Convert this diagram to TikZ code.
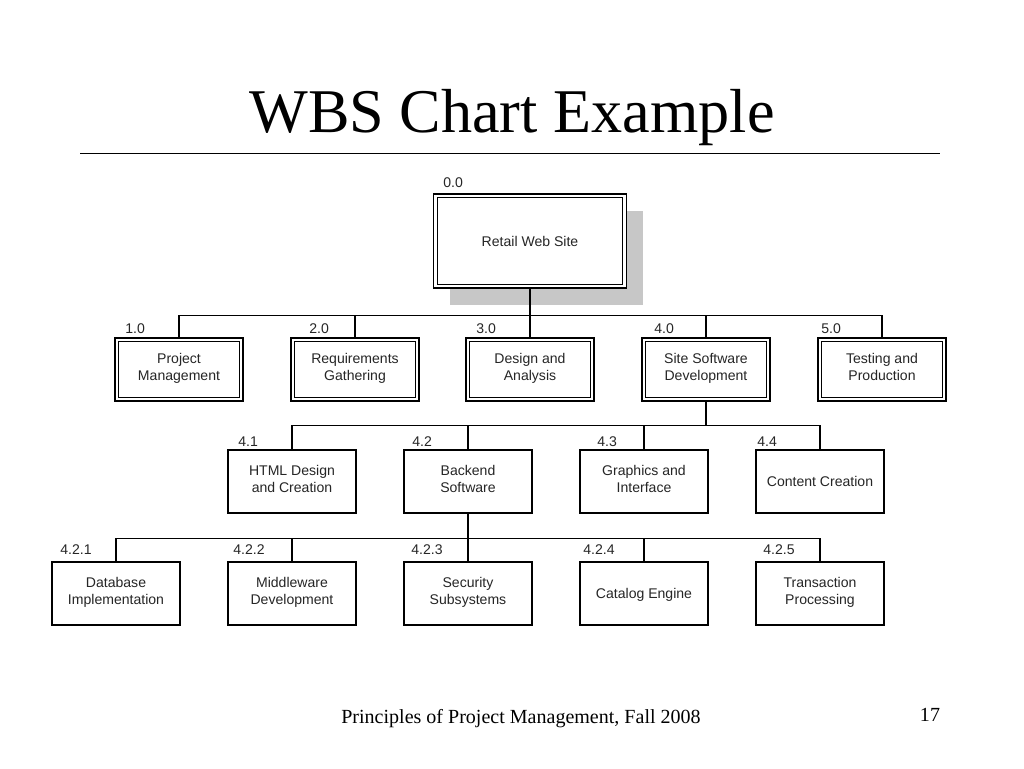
\documentclass[tikz,border=0pt]{standalone}
\usepackage{fontspec}
\setmainfont{Liberation Serif}
\setsansfont{Liberation Sans}
\usetikzlibrary{shadows}
\tikzset{
	wbsbox/.style={draw, fill=white, line width=0.6pt, align=center, inner sep=0pt,
		font=\sffamily\fontsize{8}{9.7}\selectfont, text=black!85,
		execute at begin node={\rule{0pt}{8.8pt}}, execute at end node=\strut,
		minimum width=2.56cm, minimum height=1.26cm},
	wbsdouble/.style={wbsbox,
		path picture={\draw[line width=0.6pt]
			([shift={(2.2pt,-2.2pt)}]path picture bounding box.north west) rectangle
			([shift={(-2.2pt,2.2pt)}]path picture bounding box.south east);}},
	wbsnum/.style={anchor=base west, inner sep=0pt, font=\sffamily\fontsize{8}{9.7}\selectfont, text=black!85},
	wbsline/.style={line width=0.7pt}
}
\begin{document}
\begin{tikzpicture}[x=0.02cm,y=-0.02cm]
			\useasboundingbox (0,0) rectangle (1024,768);
			\node (title) [anchor=base, font=\fontsize{35.4}{40}\selectfont] at (512,132) {WBS Chart Example};
			\draw[line width=0.5pt] (80,153) -- (940,153);
			% level 0
			\node (w0) [wbsdouble, minimum width=3.86cm, minimum height=1.88cm,
				drop shadow={shadow xshift=0.33cm, shadow yshift=-0.34cm, fill=black!22, opacity=1}]
				at (530,241) {Retail Web Site};
			\node (n0) [wbsnum] at (443,187) {0.0};
			% level 1
			\foreach\x/\y/\t in {1/179/{Project\\Management},2/355/{Requirements\\Gathering},3/530/{Design and\\Analysis},4/706/{Site Software\\Development},5/882/{Testing and\\Production}}{
				\node (w1\x) [wbsdouble] at (\y,369.5){\t};
			}
			\foreach\x/\y in {1/125,2/309,3/476,4/654,5/821}{
				\node (n1\x) [wbsnum] at (\y,333){\x.0};
			}
			% level 2
			\foreach\x/\y/\t in {1/292/{HTML Design\\and Creation},2/468/{Backend\\Software},3/644/{Graphics and\\Interface},4/820/{Content Creation}}{
				\node (w2\x) [wbsbox] at (\y,481.5){\t};
			}
			\foreach\x/\y in {1/238,2/412,3/597,4/757}{
				\node (n2\x) [wbsnum] at (\y,446){4.\x};
			}
			% level 3
			\foreach\x/\y/\t in {1/116/{Database\\Implementation},2/292/{Middleware\\Development},3/468/{Security\\Subsystems},4/644/{Catalog Engine},5/820/{Transaction\\Processing}}{
				\node (w3\x) [wbsbox] at (\y,593.5){\t};
			}
			\foreach\x/\y in {1/60,2/233,3/411,4/583,5/763}{
				\node (n3\x) [wbsnum] at (\y,554){4.2.\x};
			}
			% connectors
			\path (w0.south) ++(0,27) coordinate (b0);
			\path (w14.south) ++(0,24) coordinate (b1);
			\path (w22.south) ++(0,25) coordinate (b2);
			\foreach\x in {1,2,...,5}{
				\draw[wbsline] (w0.south) -- (b0) -| (w1\x.north);
			}
			\foreach\x in {1,2,...,4}{
				\draw[wbsline] (w14.south) -- (b1) -| (w2\x.north);
			}
			\foreach\x in {1,2,...,5}{
				\draw[wbsline] (w22.south) -- (b2) -| (w3\x.north);
			}
			% footer
			\node (foot) [anchor=base, font=\fontsize{11.4}{13}\selectfont] at (521,723) {Principles of Project Management, Fall 2008};
			\node (page) [anchor=base, font=\fontsize{11.4}{13}\selectfont] at (930,721) {17};
		\end{tikzpicture}
\end{document}
